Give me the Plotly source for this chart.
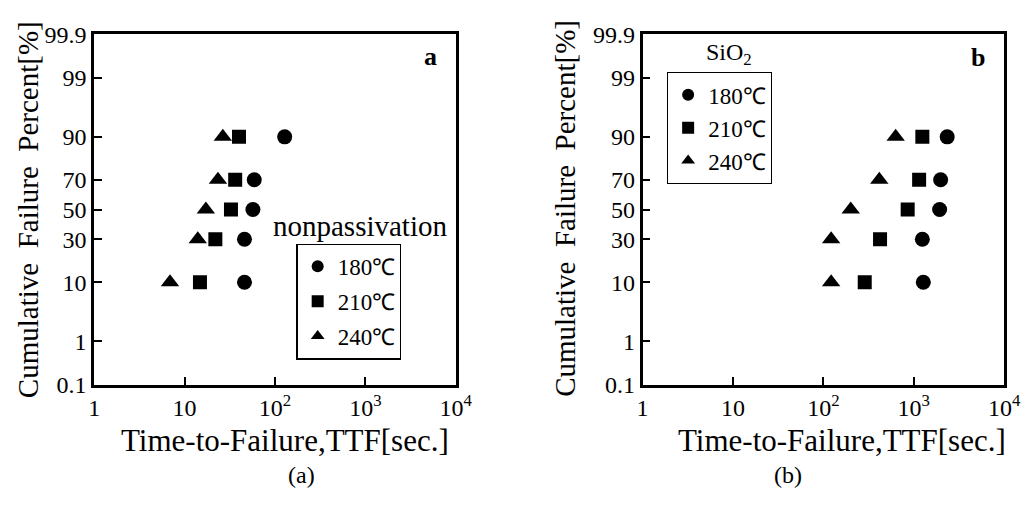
import plotly.graph_objects as go
from statistics import NormalDist

# ---------------- data ----------------
percent_levels = [10, 30, 50, 70, 90]
temps = ["180℃", "210℃", "240℃"]

# panel (a) nonpassivation: time-to-failure [sec]
a_180 = [46, 46, 57, 59, 128]
a_210 = [14.8, 21.9, 32.6, 36.3, 40]
a_240 = [6.9, 14.0, 17.2, 23.4, 26.5]

# panel (b) SiO2
b_180 = [1276, 1245, 1933, 1984, 2343]
b_210 = [287, 424, 857, 1147, 1245]
b_240 = [122, 122, 201, 416, 631]

y_tick_vals = [0.1, 1, 10, 30, 50, 70, 90, 99, 99.9]
y_tick_text = ["0.1", "1", "10", "30", "50", "70", "90", "99", "99.9"]
x_tick_vals = [1, 10, 100, 1000, 10000]
x_tick_text = ["1", "10", "10<sup>2</sup>", "10<sup>3</sup>", "10<sup>4</sup>"]

symbols = ["circle", "square", "triangle-up"]
sizes = [15, 14, 16]

# ---------------- helpers ----------------
# the page body keeps the browser's 8px margin, so the figure is 16px smaller
OFF = 8
W, H = 1036 - 2 * OFF, 509 - 2 * OFF
nd = NormalDist()


def probit(p_percent):
    return nd.inv_cdf(p_percent / 100.0)


def px(x):
    return (x - OFF) / W


def py(y):
    return (H - (y - OFF)) / H


yv = [probit(p) for p in percent_levels]
ytv = [probit(p) for p in y_tick_vals]

SERIF = "Liberation Serif"

fig = go.Figure()

panel_a = [a_180, a_210, a_240]
panel_b = [b_180, b_210, b_240]

for i, (name, xs) in enumerate(zip(temps, panel_a)):
    fig.add_trace(go.Scatter(
        x=xs, y=yv, mode="markers", name=name,
        marker=dict(symbol=symbols[i], size=sizes[i], color="black"),
        xaxis="x", yaxis="y", legend="legend", legendgroup="a" + str(i),
    ))
for i, (name, xs) in enumerate(zip(temps, panel_b)):
    fig.add_trace(go.Scatter(
        x=xs, y=yv, mode="markers", name=name,
        marker=dict(symbol=symbols[i], size=sizes[i], color="black"),
        xaxis="x2", yaxis="y2", legend="legend2", legendgroup="b" + str(i),
    ))

y0, y1 = py(392), py(22)
ax_common = dict(
    showline=True, linewidth=2.5, linecolor="black", mirror=True,
    ticks="inside", ticklen=8, tickwidth=1.5, tickcolor="black",
    showgrid=False, zeroline=False,
    tickfont=dict(family=SERIF, size=24, color="black"),
)
xax = dict(type="log", range=[0, 4], tickvals=x_tick_vals, ticktext=x_tick_text, **ax_common)
yax = dict(range=[probit(0.1), probit(99.9)], tickvals=ytv, ticktext=y_tick_text, **ax_common)

fig.update_layout(
    width=W, height=H,
    margin=dict(l=0, r=0, t=0, b=0),
    paper_bgcolor="white", plot_bgcolor="white",
    xaxis=dict(domain=[px(90), px(460)], anchor="y", **xax),
    yaxis=dict(domain=[y0, y1], anchor="x", **yax),
    xaxis2=dict(domain=[px(651), px(1021)], anchor="y2", **xax),
    yaxis2=dict(domain=[y0, y1], anchor="x2", **yax),
    legend=dict(
        x=px(297), y=py(243), xanchor="left", yanchor="top",
        bordercolor="black", borderwidth=1.2, bgcolor="white",
        font=dict(family=SERIF, size=23, color="black"),
        itemsizing="constant", tracegroupgap=2,
    ),
    legend2=dict(
        x=px(676), y=py(62), xanchor="left", yanchor="top",
        bordercolor="black", borderwidth=1.2, bgcolor="white",
        font=dict(family=SERIF, size=23, color="black"),
        itemsizing="constant", tracegroupgap=0,
    ),
    showlegend=True,
)

ann = []


def add_text(text, x, y, size, bold=False, angle=0):
    t = "<b>" + text + "</b>" if bold else text
    ann.append(dict(text=t, x=px(x), y=py(y), xref="paper", yref="paper",
                    xanchor="center", yanchor="middle", showarrow=False,
                    textangle=angle,
                    font=dict(family=SERIF, size=size, color="black")))


add_text("Cumulative  Failure  Percent[%]", 22, 207, 29, angle=-90)
add_text("Cumulative  Failure  Percent[%]", 571, 206, 29, angle=-90)
add_text("Time-to-Failure,TTF[sec.]", 285, 451, 31)
add_text("Time-to-Failure,TTF[sec.]", 855, 451, 31)
add_text("(a)", 302, 487, 24)
add_text("(b)", 800, 487, 24)
add_text("a", 434, 45, 26, bold=True)
add_text("b", 994, 47, 26, bold=True)
add_text("nonpassivation", 362, 224, 29)
add_text("SiO<sub>2</sub>", 739, 43, 24)

fig.update_layout(annotations=ann)
fig.write_html("out.html")
